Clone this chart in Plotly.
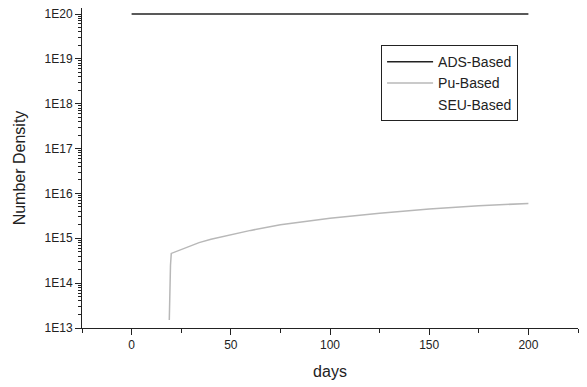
import plotly.graph_objects as go

ads_days = [0, 200]
ads_density = [1e20, 1e20]

pu_days = [19.0, 19.3, 19.6, 20.0, 25, 30, 34, 40, 50, 60, 75, 100, 125, 150, 175, 200]
pu_density = [1.5e13, 8e13, 2.5e14, 4.6e14, 5.6e14, 6.8e14, 8.0e14, 9.5e14, 1.2e15, 1.5e15, 2.0e15, 2.8e15, 3.6e15, 4.5e15, 5.3e15, 6.0e15]

seu_days = [19.0, 20.0, 50, 100, 150, 200]
seu_density = [1.5e13, 4.6e14, 1.2e15, 2.8e15, 4.5e15, 6.0e15]

y_tickvals = [1e13, 1e14, 1e15, 1e16, 1e17, 1e18, 1e19, 1e20]
y_ticktext = ["1E13", "1E14", "1E15", "1E16", "1E17", "1E18", "1E19", "1E20"]
x_tickvals = [0, 50, 100, 150, 200]
x_minor_tickvals = [-25, 25, 75, 125, 175, 225]

minor_y = []
for e in range(13, 20):
    for m in range(2, 10):
        minor_y.append(float(m) * 10.0 ** e)

X_RANGE = [-25, 225]
Y_RANGE = [13, 20.134]
AX = "#222222"

fig = go.Figure()
fig.add_trace(go.Scatter(x=seu_days, y=seu_density, mode="lines", name="SEU-Based",
                         line=dict(color="rgba(255,255,255,0)", width=1)))
fig.add_trace(go.Scatter(x=pu_days, y=pu_density, mode="lines", name="Pu-Based",
                         line=dict(color="#b8b8b8", width=1.5)))
fig.add_trace(go.Scatter(x=ads_days, y=ads_density, mode="lines", name="ADS-Based",
                         line=dict(color="#222222", width=1.5)))

# page body has an 8px default margin, so the figure is sized/offset accordingly
fig.update_layout(
    width=579, height=379,
    margin=dict(l=74, r=9, t=0, b=59),
    paper_bgcolor="white", plot_bgcolor="white",
    font=dict(family="Liberation Sans, Arial, sans-serif", color="#222222", size=12),
    showlegend=True,
    legend=dict(x=0.603, y=0.884, xanchor="left", yanchor="top",
                bordercolor=AX, borderwidth=1, bgcolor="white",
                traceorder="reversed", font=dict(size=14),
                itemwidth=46, tracegroupgap=0),
    xaxis=dict(range=X_RANGE, showgrid=False, zeroline=False, automargin=False,
               showline=True, linecolor=AX, linewidth=1,
               ticks="outside", ticklen=6, tickcolor=AX,
               tickmode="array", tickvals=x_tickvals, tickfont=dict(size=12),
               ticklabeloverflow="allow",
               title=dict(text="days", font=dict(size=16), standoff=14)),
    xaxis2=dict(range=X_RANGE, overlaying="x", anchor="y", side="bottom",
                showgrid=False, zeroline=False, showline=False, automargin=False,
                ticks="outside", ticklen=4, tickcolor=AX,
                tickmode="array", tickvals=x_minor_tickvals, showticklabels=False),
    yaxis=dict(type="log", range=Y_RANGE, showgrid=False, zeroline=False, automargin=False,
               showline=True, linecolor=AX, linewidth=1,
               ticks="outside", ticklen=6, tickcolor=AX,
               tickmode="array", tickvals=y_tickvals, ticktext=y_ticktext,
               tickfont=dict(size=12), ticklabeloverflow="allow",
               title=dict(text="Number Density", font=dict(size=16), standoff=14)),
    yaxis2=dict(type="log", range=Y_RANGE, overlaying="y", anchor="x", side="left",
                showgrid=False, zeroline=False, showline=False, automargin=False,
                ticks="outside", ticklen=3, tickcolor=AX,
                tickmode="array", tickvals=minor_y, showticklabels=False),
)

# invisible helper trace so the minor-tick axes are drawn
fig.add_trace(go.Scatter(x=ads_days, y=ads_density, xaxis="x2", yaxis="y2",
                         mode="lines", line=dict(color="rgba(0,0,0,0)"),
                         showlegend=False, hoverinfo="skip"))

fig.write_html("out.html")
